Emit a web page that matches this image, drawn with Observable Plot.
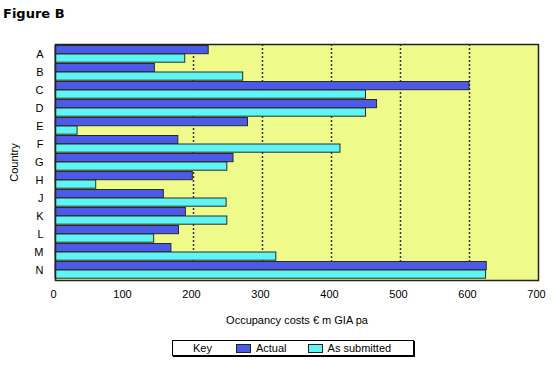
<!DOCTYPE html>
<html>
<head>
<meta charset="utf-8">
<script src="https://cdn.jsdelivr.net/npm/d3@7"></script>
<script src="https://cdn.jsdelivr.net/npm/@observablehq/plot@0.6"></script>
<style>
  html, body { margin: 0; padding: 0; background: #fff; }
  body { position: relative; width: 556px; height: 372px; overflow: hidden; font-family: "Liberation Sans", Arial, sans-serif; }
  #title { position: absolute; left: 3px; top: 6px; font: bold 13px/16px "DejaVu Sans", Verdana, sans-serif; color: #000; }
  #chart { position: absolute; left: 0; top: 28px; }
  #legend { position: absolute; left: 172px; top: 340px; width: 240px; height: 14px; border: 1px solid #000; box-shadow: 1px 1px 0 #000;
            display: flex; align-items: center; font-size: 11px; line-height: 14px; color: #000; box-sizing: content-box; white-space: nowrap; }
  #legend .key { margin-left: 20px; margin-right: 24px; }
  #legend .sw { flex: none; width: 13px; height: 7px; border: 1px solid #222; margin-right: 5px; }
  #legend .lab { margin-right: 21px; }
</style>
</head>
<body>
<div id="title">Figure B</div>
<div id="chart"></div>
<div id="legend"></div>
<script>
const countries = ["A","B","C","D","E","F","G","H","J","K","L","M","N"];
const actual    = [222,144,600,466,279,178,258,199,157,189,179,168,625];
const submitted = [188,272,450,450,32,413,249,59,248,249,143,320,624];
const seriesNames = ["Actual","As submitted"];
const seriesColors = ["#4b5ae9","#5ff5f4"];
const xTicks = [0,100,200,300,400,500,600,700];
const gridValues = [200,300,400,500,600];

const actualData = countries.map((c,i) => ({country: c, value: actual[i]}));
const submittedData = countries.map((c,i) => ({country: c, value: submitted[i]}));

const plot = Plot.plot({
  width: 556,
  height: 300,
  marginLeft: 55,
  marginRight: 18,
  marginTop: 16,
  marginBottom: 48,
  style: {fontFamily: "'Liberation Sans', Arial, sans-serif", fontSize: "11px", color: "#000", background: "transparent"},
  x: {domain: [0,700]},
  y: {domain: countries, padding: 0},
  marks: [
    Plot.frame({fill: "#eefb8a", stroke: null}),
    Plot.ruleX(gridValues, {stroke: "#333", strokeWidth: 1.5, strokeDasharray: "2,2"}),
    Plot.barX(actualData, {x: "value", y: "country", fill: seriesColors[0], stroke: "#2a2a2a", strokeWidth: 1, insetTop: 0.5, insetBottom: 9.3}),
    Plot.barX(submittedData, {x: "value", y: "country", fill: seriesColors[1], stroke: "#2a2a2a", strokeWidth: 1, insetTop: 9.0, insetBottom: 0.8}),
    Plot.frame({stroke: "#222", strokeWidth: 1.5}),
    Plot.axisX({ticks: xTicks, tickSize: 0, tickPadding: 10, fontSize: 11, dx: -2, label: "Occupancy costs € m GIA pa", labelAnchor: "center", labelOffset: 43, labelArrow: "none"}),
    Plot.axisY({tickSize: 0, tickPadding: 12, fontSize: 11, label: "Country", labelAnchor: "center", labelOffset: 45, labelArrow: "none"})
  ]
});
document.getElementById("chart").appendChild(plot);

const legend = document.getElementById("legend");
const key = document.createElement("span");
key.className = "key"; key.textContent = "Key";
legend.appendChild(key);
seriesNames.forEach((n,i) => {
  const sw = document.createElement("span");
  sw.className = "sw"; sw.style.background = seriesColors[i];
  legend.appendChild(sw);
  const lab = document.createElement("span");
  lab.className = "lab"; lab.textContent = n;
  legend.appendChild(lab);
});
</script>
</body>
</html>
